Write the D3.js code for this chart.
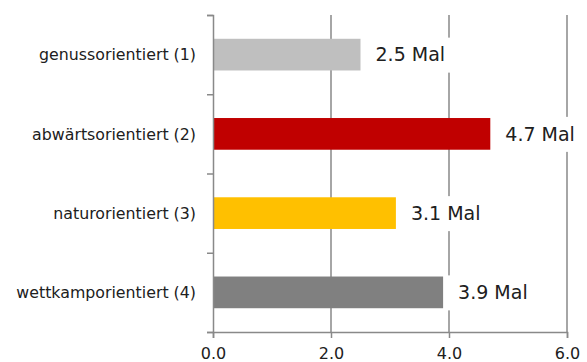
<!DOCTYPE html>
<html>
<head>
<meta charset="utf-8">
<script src="https://cdn.jsdelivr.net/npm/d3@7"></script>
<style>
  html, body { margin: 0; padding: 0; background: #fff; }
  svg { display: block; font-family: "DejaVu Sans", sans-serif; }
</style>
</head>
<body>
<svg id="chart" width="587" height="362"></svg>
<script>
// Sport orientation types and their factor
const categories = ["genussorientiert (1)", "abwärtsorientiert (2)", "naturorientiert (3)", "wettkamporientiert (4)"];
const values = [2.5, 4.7, 3.1, 3.9];
const barColors = ["#bfbfbf", "#c00000", "#ffc000", "#808080"];
const xTicks = [0, 2, 4, 6];
const unit = "Mal";

const svg = d3.select("#chart");
const plotLeft = 213, plotRight = 567, plotTop = 15, plotBottom = 332;
const axisColor = "#898989";
const textColor = "#202020";

const x = d3.scaleLinear().domain([0, 6]).range([plotLeft, plotRight]);
const y = d3.scaleBand().domain(categories).range([plotTop, plotBottom]).paddingInner(0.6).paddingOuter(0.3);
const yEdge = d3.scaleLinear().domain([0, categories.length]).range([plotTop, plotBottom]);

// vertical gridlines
svg.append("g").selectAll("line")
  .data(xTicks.slice(1))
  .join("line")
  .attr("x1", d => x(d)).attr("x2", d => x(d))
  .attr("y1", plotTop).attr("y2", plotBottom)
  .attr("stroke", axisColor).attr("stroke-width", 1.5);

// bars
svg.append("g").selectAll("rect")
  .data(categories)
  .join("rect")
  .attr("x", x(0))
  .attr("y", d => y(d))
  .attr("width", (d, i) => x(values[i]) - x(0))
  .attr("height", y.bandwidth())
  .attr("fill", (d, i) => barColors[i]);

// value labels on white boxes
const lab = svg.append("g").selectAll("g")
  .data(categories)
  .join("g")
  .attr("transform", (d, i) => `translate(${x(values[i])},${y(d) + y.bandwidth() / 2})`);
lab.append("rect")
  .attr("x", 4).attr("y", -17).attr("height", 35)
  .attr("fill", "#fff");
lab.append("text")
  .attr("x", 15).attr("dy", "0.36em")
  .attr("font-size", 19).attr("fill", textColor)
  .text((d, i) => `${values[i].toFixed(1)} ${unit}`);
lab.each(function () {
  const t = d3.select(this).select("text").node().getBBox();
  d3.select(this).select("rect").attr("width", t.x + t.width + 5 - 4);
});

// x axis
const xAxis = svg.append("g")
  .attr("transform", `translate(0,${plotBottom})`)
  .call(d3.axisBottom(x).tickValues(xTicks).tickFormat(d3.format(".1f")).tickSize(6).tickPadding(10));
xAxis.select(".domain").attr("stroke", axisColor).attr("stroke-width", 1.5);
xAxis.selectAll(".tick line").attr("stroke", axisColor).attr("stroke-width", 1.5);
xAxis.selectAll(".tick text").attr("font-size", 16).attr("fill", textColor).attr("font-family", "DejaVu Sans, sans-serif");

// y axis with ticks at band boundaries
const yAxis = svg.append("g")
  .attr("transform", `translate(${plotLeft},0)`)
  .call(d3.axisLeft(yEdge).ticks(categories.length).tickFormat("").tickSize(6).tickSizeOuter(6));
yAxis.select(".domain").attr("stroke", axisColor).attr("stroke-width", 1.5);
yAxis.selectAll(".tick line").attr("stroke", axisColor).attr("stroke-width", 1.5);

// category labels
svg.append("g").selectAll("text")
  .data(categories)
  .join("text")
  .attr("x", 196)
  .attr("y", d => y(d) + y.bandwidth() / 2)
  .attr("dy", "0.36em")
  .attr("text-anchor", "end")
  .attr("font-size", 15.8)
  .attr("fill", textColor)
  .text(d => d);
</script>
</body>
</html>
